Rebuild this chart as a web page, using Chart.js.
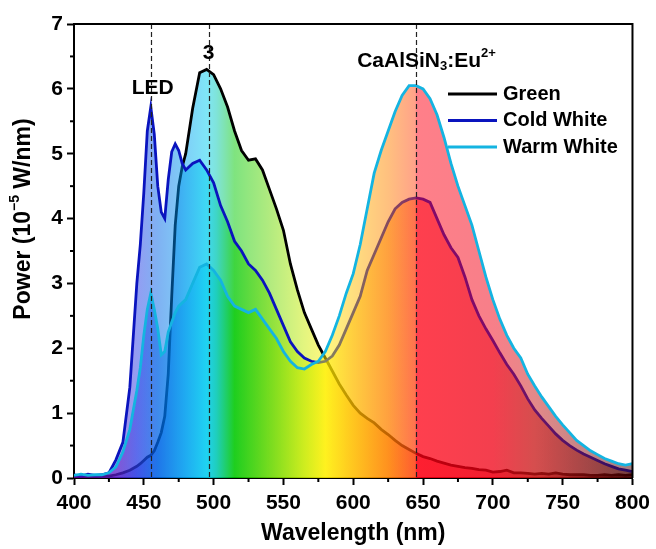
<!DOCTYPE html>
<html>
<head>
<meta charset="utf-8">
<title>LED spectra</title>
<script src="https://cdn.jsdelivr.net/npm/chart.js@4.4.1/dist/chart.umd.min.js"></script>
<style>
    body { margin: 0; background: #fff; }
    #wrap { width: 656px; height: 549px; }
</style>
</head>
<body>
<div id="wrap"><canvas id="myChart" width="656" height="549"></canvas></div>
<script>
const wavelength = [
    400, 405, 410, 415, 420, 425, 430, 435, 440, 445, 447.5, 450, 452.5, 455, 457.5, 460, 462.5, 465, 467.5, 470,
    472.5, 475, 477.5, 480, 485, 490, 495, 500, 505, 510, 515, 520, 525, 530, 535, 540, 545, 550, 555, 560,
    565, 570, 575, 580, 585, 590, 595, 600, 605, 610, 615, 620, 625, 630, 635, 640, 645, 650, 655, 660,
    665, 670, 675, 680, 685, 690, 695, 700, 705, 710, 715, 720, 725, 730, 735, 740, 745, 750, 755, 760,
    765, 770, 775, 780, 785, 790, 795, 800
];
const green = [
    0.03, 0.02, 0.03, 0.02, 0.03, 0.03, 0.05, 0.08, 0.12, 0.18, 0.22, 0.27, 0.32, 0.35, 0.42, 0.55, 0.7, 0.95, 1.6, 2.8,
    3.9, 4.5, 4.8, 5.0, 5.7, 6.25, 6.3, 6.22, 6.0, 5.72, 5.35, 5.05, 4.9, 4.92, 4.75, 4.45, 4.15, 3.82, 3.3, 2.9,
    2.55, 2.3, 2.05, 1.85, 1.65, 1.45, 1.28, 1.12, 1.0, 0.92, 0.85, 0.75, 0.67, 0.58, 0.5, 0.44, 0.38, 0.33, 0.3, 0.26,
    0.23, 0.2, 0.18, 0.16, 0.15, 0.13, 0.12, 0.09, 0.1, 0.12, 0.08, 0.08, 0.07, 0.06, 0.07, 0.06, 0.08, 0.06, 0.05, 0.05,
    0.05, 0.04, 0.04, 0.05, 0.04, 0.05, 0.04, 0.05
];
const coldWhite = [
    0.05, 0.03, 0.06, 0.04, 0.05, 0.08, 0.28, 0.55, 1.4, 3.0, 3.6, 4.4, 5.35, 5.72, 5.3, 4.5, 4.1, 4.0, 4.6, 5.03,
    5.15, 5.05, 4.85, 4.75, 4.85, 4.9, 4.75, 4.55, 4.2, 3.95, 3.65, 3.5, 3.3, 3.2, 3.05, 2.85, 2.6, 2.35, 2.1, 1.95,
    1.85, 1.8, 1.78, 1.8, 1.88, 2.05, 2.3, 2.55, 2.8, 3.2, 3.45, 3.7, 3.95, 4.15, 4.25, 4.3, 4.32, 4.3, 4.25, 4.0,
    3.75, 3.55, 3.4, 3.1, 2.75, 2.5, 2.3, 2.12, 1.93, 1.75, 1.6, 1.42, 1.22, 1.05, 0.92, 0.8, 0.68, 0.58, 0.5, 0.43,
    0.37, 0.32, 0.27, 0.22, 0.18, 0.14, 0.12, 0.1
];
const warmWhite = [
    0.04, 0.06, 0.04, 0.05, 0.05, 0.08, 0.17, 0.4, 0.75, 1.35, 1.7, 2.2, 2.6, 2.85, 2.6, 2.3, 1.9, 1.95, 2.25, 2.4,
    2.55, 2.65, 2.7, 2.75, 3.0, 3.25, 3.3, 3.2, 3.05, 2.8, 2.65, 2.6, 2.55, 2.6, 2.45, 2.3, 2.15, 1.95, 1.8, 1.7,
    1.68, 1.75, 1.8, 1.95, 2.2, 2.5, 2.85, 3.15, 3.6, 4.15, 4.7, 5.05, 5.35, 5.65, 5.9, 6.05, 6.05, 6.0, 5.85, 5.6,
    5.25, 4.85, 4.5, 4.2, 3.9, 3.5, 3.1, 2.75, 2.45, 2.2, 2.0, 1.85, 1.6, 1.42, 1.25, 1.1, 0.95, 0.82, 0.7, 0.58,
    0.5, 0.42, 0.36, 0.3, 0.26, 0.22, 0.2, 0.22
];
const seriesNames = ["Green", "Cold White", "Warm White"];
const xTicks = [400, 450, 500, 550, 600, 650, 700, 750, 800];
const yTicks = [0, 1, 2, 3, 4, 5, 6, 7];
const markerLines = [455, 497, 645];

const FONT = '"Liberation Sans", Arial, sans-serif';
const lineColors = ["#000000", "#0a14be", "#14b4e1"];

// wavelength -> rgb, used for the rainbow fill under the curves
const spectrumStops = [
    [400, 110, 0, 170], [430, 90, 30, 200], [445, 40, 60, 230], [460, 0, 100, 230],
    [480, 0, 160, 240], [495, 0, 205, 240], [502, 0, 200, 180], [515, 0, 200, 0],
    [540, 100, 215, 0], [565, 200, 235, 0], [580, 255, 240, 0], [600, 255, 190, 0],
    [625, 255, 130, 0], [644.5, 255, 70, 20], [645, 255, 0, 20], [700, 240, 0, 20],
    [730, 200, 20, 20], [770, 130, 10, 10], [800, 70, 0, 0]
];

function spectrum(chart) {
    const area = chart.chartArea;
    if (!area) return "rgba(0,0,0,0)";
    const x = chart.scales.x;
    const g = chart.ctx.createLinearGradient(area.left, 0, area.right, 0);
    spectrumStops.forEach(function (s) {
        let pos = (x.getPixelForValue(s[0]) - area.left) / (area.right - area.left);
        pos = Math.min(1, Math.max(0, pos));
        g.addColorStop(pos, `rgba(${s[1]},${s[2]},${s[3]},0.5)`);
    });
    return g;
}

function drawRich(ctx, parts, cx, cy, size) {
    let total = 0;
    parts.forEach(function (p) {
        ctx.font = `bold ${p.s ? Math.round(size * 0.62) : size}px ${FONT}`;
        total += ctx.measureText(p.t).width;
    });
    let px = cx - total / 2;
    parts.forEach(function (p) {
        ctx.font = `bold ${p.s ? Math.round(size * 0.62) : size}px ${FONT}`;
        let dy = 0;
        if (p.s === 1) dy = -size * 0.38;
        if (p.s === -1) dy = size * 0.28;
        ctx.fillText(p.t, px, cy + dy);
        px += ctx.measureText(p.t).width;
    });
}

const overlay = {
    id: "overlay",
    afterDatasetsDraw(chart) {
        const ctx = chart.ctx;
        const x = chart.scales.x;
        const y = chart.scales.y;
        const a = chart.chartArea;
        ctx.save();

        ctx.strokeStyle = "#222";
        ctx.lineWidth = 1.2;
        ctx.setLineDash([5, 3]);
        markerLines.forEach(function (nm) {
            const px = Math.round(x.getPixelForValue(nm)) + 0.5;
            ctx.beginPath();
            ctx.moveTo(px, a.top);
            ctx.lineTo(px, a.bottom);
            ctx.stroke();
        });
        ctx.setLineDash([]);

        // top / right frame and minor ticks
        ctx.strokeStyle = "#000";
        ctx.lineWidth = 2;
        ctx.beginPath();
        ctx.moveTo(a.left, a.top);
        ctx.lineTo(a.right, a.top);
        ctx.lineTo(a.right, a.bottom);
        ctx.stroke();
        for (let i = 0; i < xTicks.length - 1; i++) {
            const px = x.getPixelForValue((xTicks[i] + xTicks[i + 1]) / 2);
            ctx.beginPath();
            ctx.moveTo(px, a.bottom);
            ctx.lineTo(px, a.bottom + 4);
            ctx.stroke();
        }
        for (let i = 0; i < yTicks.length - 1; i++) {
            const py = y.getPixelForValue((yTicks[i] + yTicks[i + 1]) / 2);
            ctx.beginPath();
            ctx.moveTo(a.left, py);
            ctx.lineTo(a.left - 4, py);
            ctx.stroke();
        }

        ctx.fillStyle = "#000";
        ctx.textAlign = "left";
        ctx.textBaseline = "middle";
        drawRich(ctx, [{ t: "LED" }], x.getPixelForValue(456.4), y.getPixelForValue(6.01), 21);
        drawRich(ctx, [{ t: "3" }], x.getPixelForValue(496.4), y.getPixelForValue(6.55), 21);
        drawRich(ctx, [{ t: "CaAlSiN" }, { t: "3", s: -1 }, { t: ":Eu" }, { t: "2+", s: 1 }],
            x.getPixelForValue(652.5), y.getPixelForValue(6.43), 21);

        // legend
        chart.data.datasets.forEach(function (ds, i) {
            const ly = 94 + i * 26.5;
            ctx.strokeStyle = ds.borderColor;
            ctx.lineWidth = 3;
            ctx.beginPath();
            ctx.moveTo(448, ly);
            ctx.lineTo(497, ly);
            ctx.stroke();
            ctx.font = `bold 20px ${FONT}`;
            ctx.fillText(ds.label, 503, ly);
        });

        // axis titles
        drawRich(ctx, [{ t: "Wavelength (nm)" }], (a.left + a.right) / 2, 534, 23);
        ctx.translate(24, 219);
        ctx.rotate(-Math.PI / 2);
        drawRich(ctx, [{ t: "Power (10" }, { t: "\u22125", s: 1 }, { t: " W/nm)" }], 0, 0, 23);
        ctx.restore();
    }
};

const series = [green, coldWhite, warmWhite];
new Chart(document.getElementById("myChart"), {
    type: "line",
    data: {
        labels: wavelength,
        datasets: series.map(function (vals, i) {
            return {
                label: seriesNames[i],
                data: vals.map(function (v, j) { return { x: wavelength[j], y: v }; }),
                borderColor: lineColors[i],
                borderWidth: 2.8,
                pointRadius: 0,
                tension: 0,
                fill: "origin",
                backgroundColor: function (c) { return spectrum(c.chart); },
                order: 3 - i
            };
        })
    },
    options: {
        responsive: false,
        animation: false,
        layout: { padding: { top: 24, right: 22, left: 0, bottom: 0 } },
        plugins: { legend: { display: false }, tooltip: { enabled: false } },
        scales: {
            x: {
                type: "linear",
                min: xTicks[0],
                max: xTicks[xTicks.length - 1],
                ticks: { stepSize: xTicks[1] - xTicks[0], color: "#000", font: { family: FONT, size: 21, weight: "bold" }, padding: 6, maxRotation: 0 },
                grid: { drawOnChartArea: false, drawTicks: true, tickLength: 7, tickWidth: 2, tickColor: "#000" },
                border: { color: "#000", width: 2 },
                afterFit: function (s) { s.height = 71; }
            },
            y: {
                min: yTicks[0],
                max: yTicks[yTicks.length - 1],
                ticks: { stepSize: yTicks[1] - yTicks[0], color: "#000", font: { family: FONT, size: 21, weight: "bold" }, padding: 4 },
                grid: { drawOnChartArea: false, drawTicks: true, tickLength: 7, tickWidth: 2, tickColor: "#000" },
                border: { color: "#000", width: 2 },
                afterFit: function (s) { s.width = 74; }
            }
        }
    },
    plugins: [overlay]
});
</script>
</body>
</html>
